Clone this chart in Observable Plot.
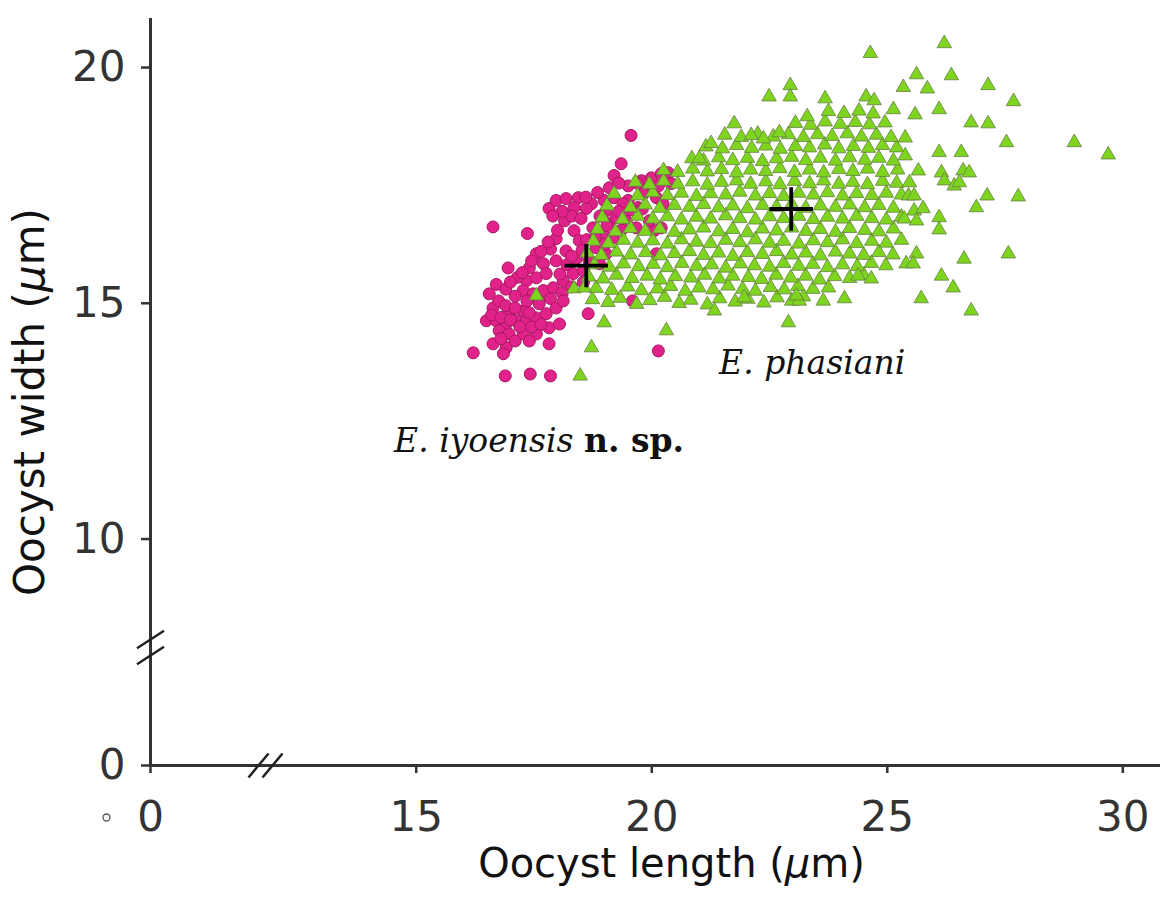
<!DOCTYPE html>
<html><head><meta charset="utf-8">
<script src="https://cdn.jsdelivr.net/npm/d3@7"></script>
<script src="https://cdn.jsdelivr.net/npm/@observablehq/plot@0.6"></script>
<style>body{margin:0;background:#fff}</style>
</head><body><div id="chart"></div>
<script>
// Axis ticks and scale breaks
const xTicks = [0, 15, 20, 25, 30];
const yTicks = [0, 10, 15, 20];
const xBreak = 11.8;
const yBreak = 7.7;

// E. iyoensis n. sp. — [length, width] in µm
const iyoensis = [
[19.56,18.56],[19.35,17.96],[19.20,17.71],[19.50,17.49],[19.78,17.60],[19.99,17.66],[20.20,17.75],[20.35,17.77],[20.41,17.54],[20.14,17.49],[19.93,17.45],[19.71,17.54],
[18.44,17.24],[18.72,17.11],[18.99,17.18],[19.20,17.24],[19.50,17.18],[19.71,17.03],[17.82,17.01],[17.97,17.18],[18.18,17.22],[18.35,17.03],[18.61,17.01],[19.03,16.96],[19.39,17.11],[19.82,17.32],[20.10,17.24],[20.24,17.11],[20.20,16.60],[20.05,16.54],[20.10,16.05],
[16.63,16.62],[17.36,16.48],[16.95,15.75],
[17.97,16.37],[18.35,16.54],[18.46,16.33],[18.18,16.11],[17.97,15.90],[17.70,15.84],[17.40,15.75],[17.34,15.48],[17.55,15.54],[17.76,15.63],[17.27,15.27],[17.48,15.20],[17.70,15.27],[17.91,15.33],[18.12,15.48],[18.33,15.63],[18.55,15.69],[18.67,15.90],[18.82,16.18],[18.97,16.48],[19.10,16.69],[19.25,16.82],[19.46,16.75],[19.67,16.60],[19.95,16.75],[19.18,16.39],[19.03,16.05],[18.89,15.84],
[18.20,15.82],[18.05,15.62],[18.40,15.95],[18.52,16.12],[18.62,16.35],[18.30,16.00],[17.85,15.10],[18.10,15.22],[18.30,15.35],[18.55,15.45],[17.60,15.05],[18.75,16.60],[18.90,16.85],[19.30,16.95],[19.55,16.98],[19.80,17.00],[19.00,16.25],[19.35,16.55],[17.15,15.55],[17.55,16.05],[17.85,16.15],
[16.55,15.20],[16.63,14.90],[16.49,14.63],[16.70,14.63],[16.91,14.56],[17.12,14.63],[17.34,14.63],[17.55,14.69],[17.76,14.78],[17.97,14.90],[18.12,15.05],[17.61,14.99],[17.27,14.84],[16.97,14.78],[16.76,14.42],[16.97,14.35],[17.27,14.35],[17.55,14.35],[17.82,14.48],[18.04,14.56],[16.63,14.14],[16.91,14.06],[16.85,13.93],
[16.60,14.75],[16.80,14.70],[17.00,14.65],[17.20,14.50],[17.45,14.50],[17.65,14.55],[16.75,15.05],[16.90,14.95],[17.10,14.90],[17.40,14.80],[16.80,14.25],[17.10,14.20],[17.40,14.20],[16.70,15.40],[16.90,15.30],[17.10,15.15],[17.35,15.05],[17.00,15.45],[17.25,15.65],[17.45,15.90],[17.65,16.10],[17.80,16.30],[18.00,16.55],[18.15,16.75],[18.30,16.85],[18.10,16.95],[17.90,16.85],[18.50,16.80],[18.60,17.25],[18.85,17.35],[19.10,17.45],[19.30,17.55],[19.05,16.65],[18.80,16.40],
[16.21,13.95],[17.82,14.14],[18.65,14.78],[19.59,15.05],[20.14,13.99],[16.89,13.46],[17.42,13.50],[17.85,13.46]
];

// E. phasiani — [length, width] in µm
const phasiani = [
[18.74,15.08],[19.07,15.02],[19.33,15.11],[19.68,14.98],[19.96,15.06],[20.27,15.13],[20.58,15.00],[20.83,15.07],[21.18,14.97],[21.44,15.10],[21.77,15.03],[22.04,15.09],[22.38,15.01],[22.66,15.12],[22.97,15.05],[23.22,15.14],
[18.82,15.32],[19.15,15.28],[19.49,15.35],[19.78,15.27],[20.12,15.31],[20.40,15.36],[20.71,15.26],[21.00,15.33],[21.30,15.29],[21.62,15.37],[21.93,15.30],[22.20,15.26],[22.52,15.34],[22.81,15.29],[23.10,15.36],[23.42,15.30],[23.75,15.33],
[18.66,15.56],[18.97,15.52],[19.25,15.60],[19.58,15.53],[19.90,15.58],[20.18,15.50],[20.50,15.57],[20.83,15.54],[21.12,15.60],[21.43,15.52],[21.72,15.58],[22.05,15.55],[22.33,15.51],[22.64,15.60],[22.95,15.54],[23.27,15.58],[23.56,15.50],[23.88,15.57],[24.20,15.53],[24.50,15.60],
[18.78,15.82],[19.10,15.77],[19.40,15.84],[19.72,15.78],[20.03,15.83],[20.33,15.76],[20.64,15.85],[20.95,15.79],[21.27,15.82],[21.57,15.75],[21.88,15.84],[22.18,15.80],[22.50,15.77],[22.80,15.85],[23.12,15.79],[23.42,15.83],[23.73,15.76],[24.05,15.82],[24.36,15.78],[24.66,15.85],[24.97,15.80],
[18.63,16.07],[18.93,16.02],[19.25,16.09],[19.55,16.03],[19.87,16.08],[20.18,16.01],[20.48,16.06],[20.80,16.10],[21.10,16.02],[21.42,16.07],[21.72,16.00],[22.03,16.08],[22.35,16.04],[22.65,16.10],[22.97,16.03],[23.27,16.07],[23.58,16.01],[23.90,16.09],[24.20,16.05],[24.50,16.02],[24.82,16.08],[25.12,16.03],
[18.76,16.32],[19.08,16.27],[19.40,16.34],[19.70,16.28],[20.02,16.33],[20.33,16.26],[20.63,16.35],[20.95,16.30],[21.25,16.27],[21.57,16.34],[21.87,16.29],[22.20,16.35],[22.50,16.28],[22.80,16.32],[23.12,16.26],[23.43,16.33],[23.73,16.29],[24.05,16.35],[24.35,16.27],[24.67,16.32],[24.98,16.28],[25.30,16.34],
[18.85,16.57],[19.23,16.52],[19.55,16.59],[19.86,16.53],[20.17,16.58],[20.48,16.51],[20.80,16.56],[21.10,16.60],[21.42,16.52],[21.72,16.57],[22.03,16.50],[22.35,16.58],[22.65,16.54],[22.97,16.60],[23.27,16.53],[23.58,16.57],[23.90,16.51],[24.20,16.59],[24.52,16.55],[24.82,16.52],[25.13,16.58],
[18.95,16.82],[19.38,16.78],[19.70,16.85],[20.02,16.79],[20.33,16.84],[20.63,16.77],[20.95,16.83],[21.25,16.79],[21.57,16.86],[21.87,16.80],[22.20,16.77],[22.50,16.84],[22.80,16.80],[23.12,16.85],[23.43,16.78],[23.73,16.83],[24.05,16.79],[24.35,16.85],[24.67,16.80],[24.98,16.77],[25.30,16.83],
[19.05,17.07],[19.55,17.03],[19.86,17.09],[20.17,17.02],[20.48,17.08],[20.80,17.04],[21.10,17.10],[21.42,17.03],[21.72,17.07],[22.03,17.01],[22.35,17.08],[22.65,17.04],[22.97,17.10],[23.27,17.02],[23.58,17.07],[23.90,17.04],[24.20,17.09],[24.52,17.03],[24.82,17.08],[25.13,17.02],
[19.20,17.32],[19.70,17.28],[20.02,17.35],[20.33,17.29],[20.63,17.34],[20.95,17.27],[21.25,17.33],[21.57,17.30],[21.87,17.36],[22.20,17.28],[22.50,17.33],[22.80,17.27],[23.12,17.34],[23.43,17.30],[23.73,17.35],[24.05,17.28],[24.35,17.33],[24.67,17.29],[24.98,17.34],[25.30,17.30],
[19.65,17.57],[19.95,17.52],[20.25,17.59],[20.55,17.53],[20.87,17.58],[21.18,17.51],[21.48,17.57],[21.80,17.60],[22.10,17.53],[22.42,17.58],[22.72,17.52],[23.03,17.59],[23.35,17.54],[23.65,17.60],[23.97,17.53],[24.27,17.57],[24.58,17.52],[24.90,17.59],[25.20,17.55],
[20.25,17.82],[20.55,17.78],[20.87,17.85],[21.18,17.79],[21.48,17.84],[21.80,17.77],[22.10,17.83],[22.42,17.80],[22.72,17.86],[23.03,17.78],[23.35,17.83],[23.65,17.77],[23.97,17.84],[24.27,17.80],[24.58,17.85],[24.90,17.78],[25.22,17.83],
[20.85,18.07],[21.10,18.02],[21.42,18.09],[21.72,18.03],[22.03,18.08],[22.35,18.01],[22.65,18.07],[22.97,18.10],[23.27,18.03],[23.58,18.08],[23.90,18.02],[24.20,18.09],[24.52,18.04],[24.82,18.08],[25.13,18.02],
[21.15,18.32],[21.50,18.28],[21.80,18.35],[22.12,18.29],[22.42,18.34],[22.73,18.27],[23.05,18.33],[23.35,18.30],[23.67,18.36],[23.97,18.28],[24.28,18.33],[24.60,18.29],[24.90,18.35],[25.20,18.30],
[21.55,18.57],[21.90,18.52],[22.25,18.59],[22.58,18.53],[22.90,18.58],[23.22,18.52],[23.52,18.58],[23.83,18.54],[24.15,18.60],[24.45,18.53],[24.77,18.57],[25.08,18.52],
[23.05,18.82],[23.37,18.78],[23.68,18.85],[24.00,18.80],[24.32,18.84],[24.62,18.79],[24.95,18.83],
[23.75,19.07],[24.08,19.03],[24.40,19.08],[24.70,19.02],
[26.21,20.51],[24.64,20.30],[25.62,19.85],[26.36,19.83],[22.94,19.62],[25.34,19.58],[25.85,19.55],[27.14,19.62],[22.49,19.38],[22.94,19.38],[23.68,19.34],[24.55,19.38],[24.72,19.30],[25.13,19.11],[26.10,19.11],[27.68,19.28],[23.30,18.96],[25.59,19.00],[26.78,18.83],[27.14,18.81],[22.71,18.62],[27.53,18.41],[28.97,18.41],[29.69,18.15],[26.10,18.20],[26.57,18.20],[25.38,18.51],[25.38,18.13],[25.66,17.81],[26.15,17.77],[26.61,17.81],[26.74,17.77],[25.47,17.56],[26.21,17.60],[26.42,17.49],[26.53,17.56],[25.45,17.28],[25.57,17.28],[27.12,17.28],[27.78,17.26],[26.89,17.03],[25.57,16.96],[25.76,17.01],[25.36,16.79],[25.62,16.75],[26.10,16.82],[26.10,16.56],[25.62,16.05],[27.57,16.05],[25.40,15.84],[25.55,15.84],[26.63,15.94],[26.15,15.58],[26.40,15.33],[25.72,15.10],[26.78,14.84],[24.38,15.58],[24.66,15.52],[24.09,15.10],[23.64,15.05],[23.13,15.05],[23.07,15.16],[22.90,14.59],[21.96,15.12],[21.33,14.84],[20.31,14.42],[18.99,14.59],[18.72,14.06],[18.48,13.46],[17.55,15.16],[18.35,15.31],[18.57,15.33],
[21.75,18.81],[21.26,18.39],[21.01,18.07],[22.11,18.56],[22.37,18.49]
];

// Species means
const meanLength = [18.61, 22.96];
const meanWidth = [15.80, 17.00];

// Labels
const labelText = ["E. phasiani", "E. iyoensis n. sp."];
const labelX = [21.43, 14.53];
const labelY = [13.72, 12.08];

const xTitle = "Oocyst length (μm)";
const yTitle = "Oocyst width (μm)";

// custom "//" break symbols
const slashesY = {draw(ctx) { ctx.moveTo(-13.5, 0.7); ctx.lineTo(13.5, -16.7); ctx.moveTo(-13.5, 16.7); ctx.lineTo(13.5, -0.7); }};
const slashesX = {draw(ctx) { ctx.moveTo(-17, 12); ctx.lineTo(3, -12); ctx.moveTo(-3, 12); ctx.lineTo(17, -12); }};

const means = meanLength.map((x, i) => ({x, y: meanWidth[i]}));
const labels = labelText.map((t, i) => ({text: t, x: labelX[i], y: labelY[i]}));

const plot = Plot.plot({
  width: 1163, height: 898,
  marginLeft: 150, marginRight: 3, marginTop: 18, marginBottom: 133,
  x: {type: "linear", domain: [0, xBreak, 30.8], range: [150, 265, 1160]},
  y: {type: "linear", domain: [0, yBreak, 21.04], range: [765, 647, 18]},
  style: {fontFamily: "DejaVu Sans", color: "#333", background: "#fff", overflow: "visible"},
  marks: [
    Plot.dot(iyoensis, {x: d => d[0], y: d => d[1], r: 6, fill: "#e2228b", stroke: "#a8175f", strokeWidth: 1}),
    Plot.dot(phasiani, {x: d => d[0], y: d => d[1], symbol: "triangle", r: 5.4, fill: "#7ed41f", stroke: "#667f45", strokeWidth: 0.8}),
    Plot.dot(means, {x: "x", y: "y", symbol: "plus", r: 14, stroke: "#000", strokeWidth: 3.8}),
    Plot.ruleX([0], {stroke: "#333", strokeWidth: 3}),
    Plot.ruleY([0], {stroke: "#333", strokeWidth: 3}),
    Plot.axisX({ticks: xTicks, tickSize: 8, tickPadding: 28, fontSize: 42, label: null, strokeWidth: 2.5}),
    Plot.axisY({ticks: yTicks, tickSize: 9, tickPadding: 16, fontSize: 42, label: null, strokeWidth: 2.5}),
    Plot.dot([{x: xBreak, y: 0}], {x: "x", y: "y", symbol: slashesX, fill: "none", stroke: "#222", strokeWidth: 2.5}),
    Plot.dot([{x: 0, y: yBreak}], {x: "x", y: "y", symbol: slashesY, fill: "none", stroke: "#222", strokeWidth: 2.5}),
    Plot.dot([0], {frameAnchor: "bottom-left", dx: -44, dy: 52, r: 3.5, fill: "none", stroke: "#555", strokeWidth: 1.3}),
    Plot.text(labels, {x: "x", y: "y", text: "text", textAnchor: "start", fontFamily: "DejaVu Serif", fontSize: 33, fill: "#111"}),
    Plot.text([xTitle], {frameAnchor: "bottom", textAnchor: "middle", dx: 16, dy: 111, fontSize: 40, fill: "#111"}),
    Plot.text([yTitle], {frameAnchor: "left", textAnchor: "middle", rotate: -90, dx: -120, dy: 10, fontSize: 42, fill: "#111"})
  ]
});

// rich text: italic species names, bold "n. sp.", italic μ
const NS = "http://www.w3.org/2000/svg";
function tspan(parent, s, style) {
  const t = document.createElementNS(NS, "tspan");
  t.textContent = s;
  for (const k in style) t.style[k] = style[k];
  parent.appendChild(t);
}
plot.querySelectorAll("text").forEach(t => {
  const s = t.textContent;
  if (s === "E. iyoensis n. sp.") {
    t.textContent = "";
    tspan(t, "E. iyoensis ", {fontStyle: "italic"});
    tspan(t, "n. sp.", {fontWeight: "bold"});
  } else if (s === "E. phasiani") {
    t.style.fontStyle = "italic";
  } else if (s.includes("μ")) {
    const [a, b] = s.split("μ");
    t.textContent = "";
    tspan(t, a, {});
    tspan(t, "μ", {fontStyle: "italic"});
    tspan(t, b, {});
  }
});
document.getElementById("chart").appendChild(plot);
</script>
</body></html>
